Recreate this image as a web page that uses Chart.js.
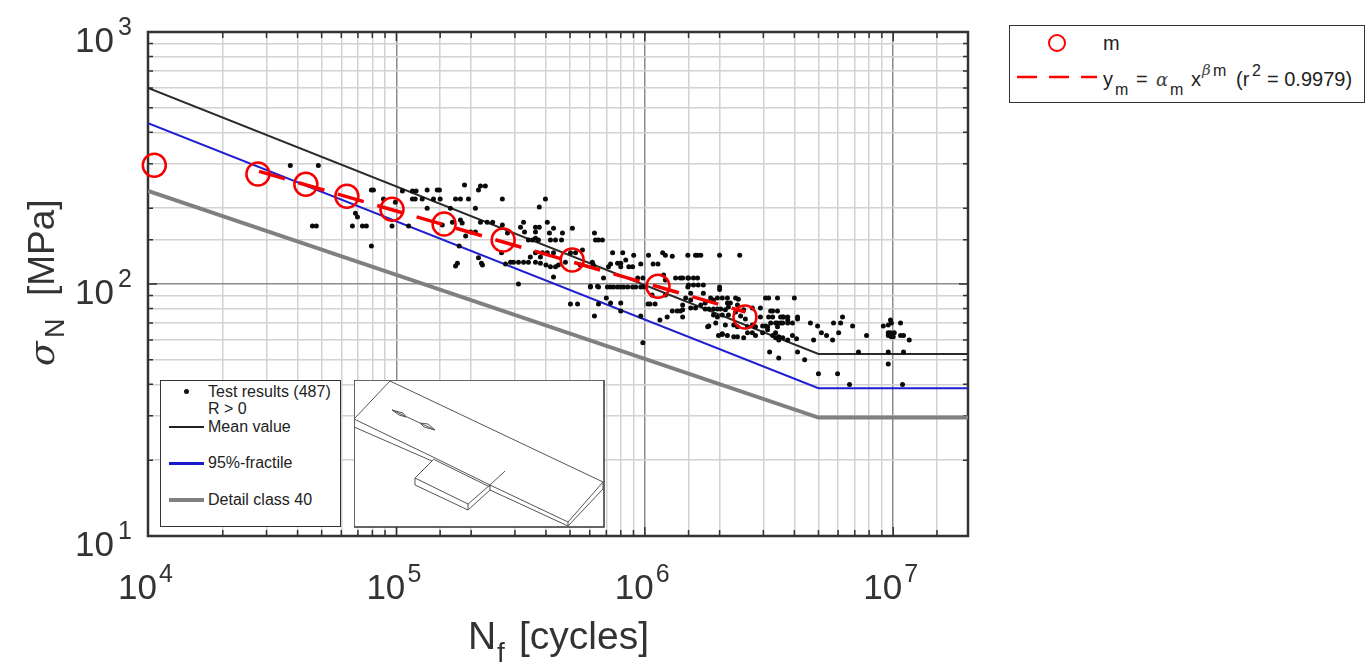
<!DOCTYPE html>
<html>
<head>
<meta charset="utf-8">
<script src="https://cdn.jsdelivr.net/npm/chart.js@4/dist/chart.umd.min.js"></script>
<style>
  body { margin: 0; background: #fff; font-family: "Liberation Sans", Arial, sans-serif; overflow: hidden; }
  #wrap { position: relative; width: 1367px; height: 663px; overflow: hidden; }
  #chart { position: absolute; left: 0; top: 0; }
  .box { position: absolute; background: #fff; border: 1.5px solid #333; box-sizing: border-box; }
  .lab { position: absolute; white-space: nowrap; color: #222; line-height: 1; }
  .in { font-size: 16px; left: 208px; }
  .f20 { font-size: 20px; top: 69px; }
  .f16 { font-size: 16px; top: 81.5px; }
  .up { font-size: 16px; top: 62.5px; }
  .gr { font-family: "DejaVu Serif"; font-style: italic; color: #444; }
  .key { position: absolute; }
  #inset { position: absolute; left: 354px; top: 380px; }
</style>
</head>
<body>
<div id="wrap">
  <canvas id="chart" width="1367" height="663"></canvas>

  <!-- legend inside the plot -->
  <div class="box" style="left:160px;top:380px;width:181px;height:147px"></div>
  <div class="key" style="left:184px;top:389px;width:5px;height:5px;border-radius:50%;background:#111"></div>
  <div class="lab in" style="top:383.5px">Test results (487)</div>
  <div class="lab in" style="top:400.5px">R &gt; 0</div>
  <div class="lab in" style="top:418.5px">Mean value</div>
  <div class="lab in" style="top:454.5px">95%-fractile</div>
  <div class="lab in" style="top:491.5px">Detail class 40</div>
  <div class="key" style="left:169px;top:426px;width:35px;height:1.5px;background:#222"></div>
  <div class="key" style="left:169px;top:462px;width:35px;height:2.5px;background:#1a1acc"></div>
  <div class="key" style="left:169px;top:498px;width:35px;height:4px;background:#808080"></div>

  <!-- welded detail sketch -->
  <svg id="inset" width="251" height="148" viewBox="354 380 251 148">
    <rect x="354" y="380" width="250" height="147" fill="#fff" stroke="#333" stroke-width="1.5"/>
    <g fill="none" stroke="#555" stroke-width="1">
      <path d="M354 419 L390 381 L603 482 L568 522 L490 485 L433 457 L354 419"/>
      <path d="M354 427 L432 461 M490 490 L568 526 L603 489 V482 M568 522 V526"/>
      <path d="M433 460 L415 478 L468 504 L490 485 V490 L468 510 L415 485 V478 M468 504 V510"/>
      <path d="M433 459 L490 487 M490 485 L505 471"/>
      <path d="M392 410 L435 430"/>
      <path d="M392 410 L403 413 L406 417 L399 415 Z M435 430 L424 427 L420 423 L428 424 Z"/>
    </g>
  </svg>

  <!-- legend outside the plot -->
  <div class="box" style="left:1009px;top:25px;width:356px;height:78px"></div>
  <div class="key" style="left:1048px;top:34px;width:18px;height:18px;box-sizing:border-box;border:2px solid #f00;border-radius:50%"></div>
  <div class="lab" style="left:1103px;top:33px;font-size:20px">m</div>
  <svg class="key" style="left:1016px;top:74px" width="84" height="6"><line x1="1" y1="3" x2="81" y2="3" stroke="#f00" stroke-width="2.5" stroke-dasharray="20 12"/></svg>
  <div class="lab f20" style="left:1103px">y</div>
  <div class="lab f16" style="left:1115px">m</div>
  <div class="lab f20" style="left:1136px">=</div>
  <div class="lab f20 gr" style="left:1156px;font-size:18px;top:71px">α</div>
  <div class="lab f16" style="left:1170px">m</div>
  <div class="lab f20" style="left:1191px">x</div>
  <div class="lab up gr" style="left:1202px;font-size:15px;top:63px">β</div>
  <div class="lab up" style="left:1213px">m</div>
  <div class="lab f20" style="left:1236px">(r</div>
  <div class="lab up" style="left:1252px">2</div>
  <div class="lab f20" style="left:1267px">= 0.9979)</div>
</div>

<script>
const xMin = 1e4;
const xMax = 2e7;
const yMin = 10;
const yMax = 1000;

const xTickValues = [1e4, 1e5, 1e6, 1e7];
const xTickExponents = ['4', '5', '6', '7'];
const yTickValues = [1000, 100, 10];
const yTickExponents = ['3', '2', '1'];

// S-N curves
const meanCycles = [1e4, 5e6, 2e7];
const meanStress = [600, 52.8, 52.8];
const fractileCycles = [1e4, 5e6, 2e7];
const fractileStress = [435, 38.6, 38.6];
const detailCycles = [1e4, 5e6, 2e7];
const detailStress = [234, 29.5, 29.5];

// red markers and their fit
const markerCycles = [1.06e4, 2.77e4, 4.32e4, 6.32e4, 9.6e4, 1.556e5, 2.69e5, 5.1e5, 1.13e6, 2.53e6];
const markerStress = [296, 273, 249, 223, 198, 173, 149.5, 124.5, 98, 74];
const fitCycles = [2.8e4, 2.54e6];
const fitStress = [280, 77.4];

const testStress = [
  295, 247, 245, 236, 234, 217.5, 211, 202, 200, 191,
  184.5, 179.5, 176, 174.5, 171.5, 170, 168, 166.5, 161, 159.5,
  155, 152, 149.6, 141.5, 136.5, 133, 130, 129, 128, 127,
  124.5, 122, 121, 120, 119, 118, 117, 108.6, 106.6, 105.6,
  103.7, 100, 99, 98, 97.3, 95, 92, 90.4, 88, 87,
  86.4, 84, 83.3, 82.5, 81, 80.3, 79.6, 79, 78.2, 77.5,
  75.4, 74.7, 74, 72.7, 72, 70, 68.8, 68.2, 67.6, 65.8,
  64, 63.5, 63, 62.4, 61.8, 61.2, 60.6, 60, 58.4, 53.7,
  50.9, 50, 48.1, 44, 39.9
];
const testCycles = [
  [3.74e4, 4.85e4],
  [1.88e5],
  [2.18e5, 2.28e5],
  [7.93e4, 8.08e4, 1.33e5, 1.46e5, 1.49e5, 2.14e5],
  [1.057e5, 1.16e5, 1.2e5],
  [8.87e4, 1.16e5, 1.19e5, 1.27e5, 1.41e5, 1.5e5, 1.73e5, 1.81e5, 1.95e5, 2.67e5, 3.98e5],
  [9.9e4],
  [3.76e5],
  [1.33e5, 1.65e5, 2.08e5],
  [6.84e4],
  [6.97e4],
  [1.81e5],
  [1.68e5, 2.18e5, 2.32e5, 2.44e5, 3.25e5, 4.05e5],
  [1.84e5],
  [1.53e5, 2.67e5],
  [4.59e4, 4.76e4, 6.65e4, 7.3e4, 7.57e4, 9.6e4, 1.12e5],
  [3.16e5, 3.63e5, 3.76e5],
  [4.29e5, 5.11e5],
  [1.99e5, 2.08e5, 3.28e5, 3.63e5],
  [2.8e5, 4.13e5, 4.66e5, 6.27e5],
  [1.9e5],
  [3.63e5],
  [3.4e5, 3.53e5, 3.73e5, 4.17e5, 4.37e5, 4.62e5, 6.33e5, 6.51e5, 6.75e5],
  [7.93e4, 1.79e5],
  [5.61e5],
  [2.65e5, 3.63e5, 3.87e5, 4.05e5, 4.29e5, 5.02e5, 5.26e5, 7.42e5, 8.15e5, 1.18e6],
  [9.02e5, 1.035e6, 1.21e6, 1.49e6, 1.6e6, 1.63e6, 1.68e6, 2e6, 2.41e6],
  [1.29e6],
  [3.46e5, 3.8e5],
  [2.14e5],
  [8.38e5],
  [2.88e5, 2.96e5, 3.1e5, 3.25e5, 3.4e5, 3.63e5, 4.79e5, 6.15e5],
  [1.76e5, 2.2e5, 3.8e5, 7.77e5, 8e5],
  [2.75e5, 7.28e5, 9.63e5, 1.08e6, 1.13e6],
  [2.22e5, 4e5, 4.49e5, 5.5e5, 6.21e5],
  [1.73e5],
  [4.17e5, 4.37e5, 7.14e5, 8e5, 8.62e5, 8.93e5],
  [1.19e6],
  [4.29e5],
  [6.82e5, 9.36e5, 9.82e5, 1.33e6, 1.39e6, 1.42e6, 1.49e6, 1.5e6, 1.57e6, 1.63e6],
  [1.21e6],
  [3.1e5],
  [1.5e6, 1.57e6, 1.64e6, 1.72e6],
  [6.04e5, 6.45e5],
  [6.04e5, 6.51e5, 7.07e5, 7.28e5, 7.49e5, 7.77e5, 8e5, 8.22e5, 8.54e5, 8.93e5, 9.19e5, 9.63e5, 9.91e5, 1.49e6, 2e6],
  [2e6],
  [1.53e6, 1.72e6],
  [1.07e6, 1.21e6],
  [7e5, 1.46e6, 1.84e6, 1.96e6, 2.05e6, 2.15e6, 2.32e6, 3.06e6, 3.15e6, 3.42e6, 4e6],
  [2.38e6],
  [1.53e6, 1.89e6],
  [7.28e5, 8e5, 1.75e6, 2.15e6, 2.21e6],
  [5.02e5, 5.36e5, 6.51e5, 1.03e6, 1.05e6, 1.1e6],
  [1.42e6, 1.68e6, 2.36e6],
  [2.17e6],
  [1.53e6, 1.6e6, 2.71e6, 2.92e6],
  [1.75e6, 1.81e6, 1.89e6, 1.96e6, 2.02e6],
  [1.42e6, 2.11e6, 2.5e6],
  [8e5, 1.29e6, 1.35e6, 1.39e6, 3.21e6, 3.27e6, 3.42e6],
  [2.32e6],
  [1.89e6, 2.05e6, 2.17e6],
  [6.27e5, 9.63e5, 2.43e6],
  [1.23e6, 1.42e6, 1.96e6, 2.92e6, 3.15e6, 3.27e6, 3.52e6, 3.59e6, 3.62e6, 3.76e6, 4.12e6, 6.25e6],
  [2.54e6, 4.12e6],
  [1.15e6, 3.76e6, 9.75e6],
  [1.93e6, 3.21e6, 3.36e6, 3.42e6, 3.52e6, 3.59e6, 3.76e6, 3.93e6, 4.64e6, 5.75e6, 6.14e6, 9.83e6, 1.07e7],
  [2.11e6, 2.28e6, 2.71e6, 9.55e6],
  [1.81e6, 2.98e6, 3.06e6, 4.96e6, 6.86e6, 9.12e6],
  [1.79e6, 2.36e6, 2.59e6, 2.79e6, 3.12e6, 3.42e6],
  [3.12e6],
  [2.59e6, 2.71e6, 2.98e6, 3.36e6, 5.14e6, 6.03e6, 9.55e6, 9.75e6, 1.01e7],
  [2.05e6],
  [2.05e6],
  [1.98e6, 2.15e6, 2.79e6, 3.27e6, 3.93e6, 5.39e6, 7.81e6, 9.55e6, 1.07e7, 1.1e7],
  [2.28e6, 2.36e6, 3.46e6, 9.83e6, 1e7],
  [2.5e6, 3.36e6, 3.59e6],
  [4.08e6],
  [3.46e6, 3.76e6, 4.78e6, 5.7e6, 1.16e7],
  [9.82e5],
  [3.18e6, 4.12e6, 7.25e6, 9.55e6, 1.1e7],
  [3.46e6],
  [4.4e6],
  [9.55e6],
  [5e6, 5.97e6],
  [6.67e6, 1.09e7]
];

function toPoints(xs, ys) {
  return xs.map((x, i) => ({ x: x, y: ys[i] }));
}

const testPoints = [];
testStress.forEach((s, i) => {
  testCycles[i].forEach(n => testPoints.push({ x: n, y: s }));
});

function isDecade(v) {
  const l = Math.log10(v);
  return Math.abs(l - Math.round(l)) < 1e-6;
}

function gridColor(ctx) {
  if (!ctx.tick) return '#d2d2d2';
  return isDecade(ctx.tick.value) ? '#8c8c8c' : '#d2d2d2';
}

// box round the plot, with the short ticks pointing inwards
const framePlugin = {
  id: 'frame',
  beforeDatasetsDraw(chart) {
    const c = chart.ctx;
    const a = chart.chartArea;
    c.save();
    c.strokeStyle = '#333';
    c.lineWidth = 1.5;
    c.beginPath();
    chart.scales.x.ticks.forEach(t => {
      const p = chart.scales.x.getPixelForValue(t.value);
      const len = isDecade(t.value) ? 9 : 6;
      c.moveTo(p, a.bottom); c.lineTo(p, a.bottom - len);
      c.moveTo(p, a.top); c.lineTo(p, a.top + len);
    });
    chart.scales.y.ticks.forEach(t => {
      const p = chart.scales.y.getPixelForValue(t.value);
      const len = isDecade(t.value) ? 9 : 5;
      c.moveTo(a.left, p); c.lineTo(a.left + len, p);
      c.moveTo(a.right, p); c.lineTo(a.right - len, p);
    });
    c.stroke();
    c.lineWidth = 2.5;
    c.strokeRect(a.left, a.top, a.right - a.left, a.bottom - a.top);
    c.restore();
  }
};

// tick labels are 10 with a raised exponent, which the stock ticks can't do
const labelPlugin = {
  id: 'labels',
  afterDraw(chart) {
    const c = chart.ctx;
    const xs = chart.scales.x;
    const ys = chart.scales.y;
    c.save();
    c.fillStyle = '#333';
    c.textBaseline = 'alphabetic';

    xTickValues.forEach((v, i) => {
      const p = xs.getPixelForValue(v);
      c.textAlign = 'left';
      c.font = '35px "Liberation Sans"';
      c.fillText('10', p - 30, 599);
      c.font = '25px "Liberation Sans"';
      c.fillText(xTickExponents[i], p + 11, 582);
    });
    yTickValues.forEach((v, i) => {
      const p = ys.getPixelForValue(v);
      c.textAlign = 'left';
      c.font = '35px "Liberation Sans"';
      c.fillText('10', 75, p + 20);
      c.font = '25px "Liberation Sans"';
      c.fillText(yTickExponents[i], 118, p + 3);
    });

    // x axis title
    c.font = '39px "Liberation Sans"';
    c.fillText('N', 468, 649);
    c.font = '28px "Liberation Sans"';
    c.fillText('f', 497, 662);
    c.font = '39px "Liberation Sans"';
    c.fillText('[cycles]', 519, 649);

    // y axis title
    c.translate(54, 366);
    c.rotate(-Math.PI / 2);
    c.font = 'italic 36px "DejaVu Serif"';
    c.fillText('σ', 0, 0);
    c.font = '27px "Liberation Sans"';
    c.fillText('N', 28, 10);
    c.font = '37px "Liberation Sans"';
    c.fillText('[MPa]', 70, 0);
    c.restore();
  }
};

new Chart(document.getElementById('chart'), {
  type: 'scatter',
  data: {
    datasets: [
      {
        label: 'm',
        data: toPoints(markerCycles, markerStress),
        pointStyle: 'circle',
        pointRadius: 11.5,
        pointBorderWidth: 2.5,
        pointBorderColor: '#f50000',
        pointBackgroundColor: 'rgba(0,0,0,0)',
        showLine: false,
        clip: false,
        order: 1
      },
      {
        label: 'fit',
        data: toPoints(fitCycles, fitStress),
        showLine: true,
        borderColor: '#f50000',
        borderWidth: 3.5,
        borderDash: [27, 14],
        pointRadius: 0,
        order: 2
      },
      {
        label: 'Test results (487)',
        data: testPoints,
        pointRadius: 2.5,
        pointBorderWidth: 0,
        pointBackgroundColor: '#0a0a0a',
        showLine: false,
        order: 3
      },
      {
        label: 'Mean value',
        data: toPoints(meanCycles, meanStress),
        showLine: true,
        borderColor: '#2a2a2a',
        borderWidth: 2,
        pointRadius: 0,
        order: 4
      },
      {
        label: '95%-fractile',
        data: toPoints(fractileCycles, fractileStress),
        showLine: true,
        borderColor: '#1f1fd0',
        borderWidth: 2,
        pointRadius: 0,
        order: 5
      },
      {
        label: 'Detail class 40',
        data: toPoints(detailCycles, detailStress),
        showLine: true,
        borderColor: '#808080',
        borderWidth: 4,
        pointRadius: 0,
        order: 6
      }
    ]
  },
  options: {
    responsive: false,
    animation: false,
    layout: { padding: { left: 148, right: 399, top: 32, bottom: 127 } },
    plugins: { legend: { display: false }, tooltip: { enabled: false } },
    scales: {
      x: {
        type: 'logarithmic',
        min: xMin,
        max: xMax,
        ticks: { display: false, autoSkip: false },
        border: { display: false },
        grid: { color: gridColor, lineWidth: 1.5, drawTicks: false }
      },
      y: {
        type: 'logarithmic',
        min: yMin,
        max: yMax,
        ticks: { display: false, autoSkip: false },
        border: { display: false },
        grid: { color: gridColor, lineWidth: 1.5, drawTicks: false }
      }
    }
  },
  plugins: [framePlugin, labelPlugin]
});
</script>
</body>
</html>
